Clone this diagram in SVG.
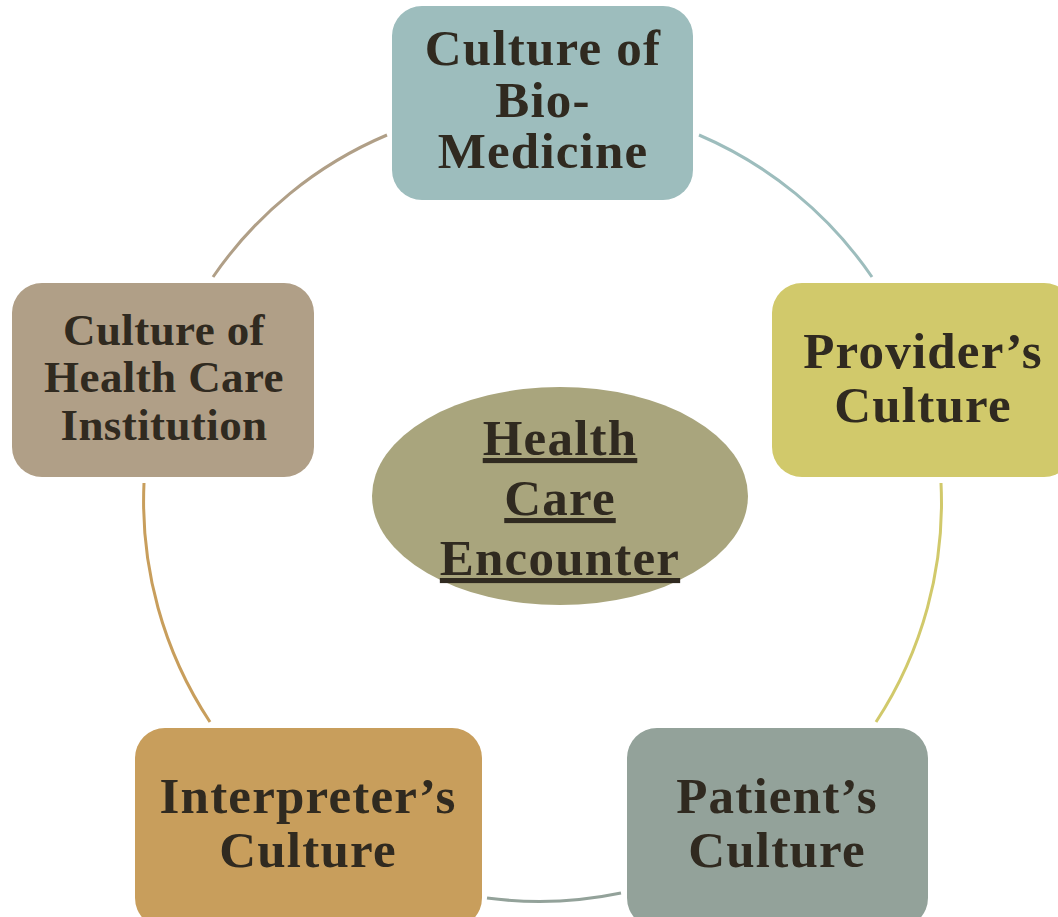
<svg xmlns="http://www.w3.org/2000/svg" width="1058" height="917" viewBox="0 0 1058 917">
<style>
.t{font-family:"Liberation Serif","DejaVu Serif",serif;font-weight:bold;fill:#302A20;text-anchor:middle}
.big{font-size:51px;letter-spacing:1.2px}
.mid{font-size:45px;letter-spacing:0.4px}
.c{fill:none;stroke-width:3}
</style>
<rect width="1058" height="917" fill="#ffffff"/>
<g id="connectors">
<path class="c" stroke="#B09F87" d="M 213 277 A 400 400 0 0 1 387 135"/>
<path class="c" stroke="#9DBDBD" d="M 699 135 A 400 400 0 0 1 872 277"/>
<path class="c" stroke="#D1C96B" d="M 941 483 A 400 400 0 0 1 876 722"/>
<path class="c" stroke="#93A29A" d="M 621 893 A 400 400 0 0 1 487 898"/>
<path class="c" stroke="#C89E5C" d="M 210 722 A 400 400 0 0 1 144 483"/>
</g>
<g id="node-biomedicine">
<rect x="392" y="6" width="301" height="194" rx="30" fill="#9DBDBD"/>
<text class="t big" x="543" y="65">Culture of</text>
<text class="t big" x="543" y="117">Bio-</text>
<text class="t big" x="543" y="168">Medicine</text>
</g>
<g id="node-provider">
<rect x="772" y="283" width="302" height="194" rx="30" fill="#D1C96B"/>
<text class="t big" x="923" y="368">Provider’s</text>
<text class="t big" x="923" y="422">Culture</text>
</g>
<g id="node-patient">
<rect x="627" y="728" width="301" height="200" rx="30" fill="#93A29A"/>
<text class="t big" x="777" y="813">Patient’s</text>
<text class="t big" x="777" y="867">Culture</text>
</g>
<g id="node-interpreter">
<rect x="135" y="728" width="347" height="200" rx="30" fill="#C89E5C"/>
<text class="t big" x="308" y="813">Interpreter’s</text>
<text class="t big" x="308" y="867">Culture</text>
</g>
<g id="node-institution">
<rect x="12" y="283" width="302" height="194" rx="30" fill="#B09F87"/>
<text class="t mid" x="164" y="345">Culture of</text>
<text class="t mid" x="164" y="392">Health Care</text>
<text class="t mid" x="164" y="440">Institution</text>
</g>
<g id="node-encounter">
<ellipse cx="560" cy="496" rx="188" ry="109" fill="#A9A57D"/>
<text class="t big" x="560" y="455" text-decoration="underline">Health</text>
<text class="t big" x="560" y="515" text-decoration="underline">Care</text>
<text class="t big" x="560" y="575" text-decoration="underline">Encounter</text>
</g>
</svg>
